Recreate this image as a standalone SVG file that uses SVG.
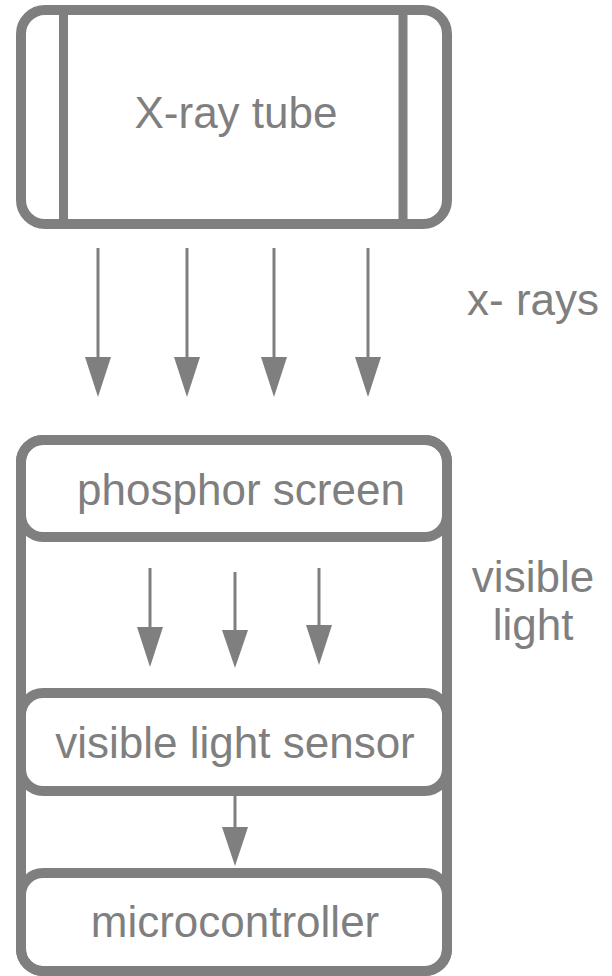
<svg xmlns="http://www.w3.org/2000/svg" width="612" height="976" viewBox="0 0 612 976">
<style>
.box{fill:none;stroke:#7f7f7f;stroke-width:10}
.fillw{fill:#ffffff;stroke:#7f7f7f;stroke-width:10}
.bar{stroke:#7f7f7f;stroke-width:9}
.ln{stroke:#7f7f7f;stroke-width:3;fill:none}
.hd{fill:#7f7f7f}
text{font-family:"Liberation Sans",Arial,sans-serif;font-size:44px;fill:#7f7f7f;text-anchor:middle}
</style>
<rect width="612" height="976" fill="#ffffff"/>
<g id="xray-tube">
<rect class="box" x="21" y="10" width="426" height="214" rx="24"/>
<line class="bar" x1="63.5" y1="10" x2="63.5" y2="224"/>
<line class="bar" x1="403" y1="10" x2="403" y2="224"/>
<text x="236" y="128">X-ray tube</text>
</g>
<g id="detector-housing">
<rect class="box" x="21" y="440" width="426" height="531" rx="22"/>
</g>
<g id="phosphor-screen">
<rect class="box" x="21" y="440" width="426" height="97" rx="22"/>
<text x="241" y="505">phosphor screen</text>
</g>
<g id="visible-light-sensor">
<rect class="box" x="21" y="693" width="426" height="98" rx="22"/>
<text x="235" y="758">visible light sensor</text>
</g>
<g id="microcontroller">
<rect class="box" x="21" y="873" width="426" height="98" rx="22"/>
<text x="235" y="937">microcontroller</text>
</g>
<g id="labels">
<text x="533" y="315" font-size="43">x- rays</text>
<text x="533" y="592">visible</text>
<text x="533" y="640">light</text>
</g>
<g id="connectors">
<line class="ln" x1="98" y1="248" x2="98" y2="360"/>
<polygon class="hd" points="85,357 111,357 98,397"/>
<line class="ln" x1="187" y1="248" x2="187" y2="360"/>
<polygon class="hd" points="174,357 200,357 187,397"/>
<line class="ln" x1="274" y1="248" x2="274" y2="360"/>
<polygon class="hd" points="261,357 287,357 274,397"/>
<line class="ln" x1="368" y1="248" x2="368" y2="360"/>
<polygon class="hd" points="355,357 381,357 368,397"/>
<line class="ln" x1="150" y1="568" x2="150" y2="630"/>
<polygon class="hd" points="137,627 163,627 150,667"/>
<line class="ln" x1="235" y1="572" x2="235" y2="633"/>
<polygon class="hd" points="222,630 248,630 235,668"/>
<line class="ln" x1="319" y1="568" x2="319" y2="628"/>
<polygon class="hd" points="306,625 332,625 319,665"/>
<line class="ln" x1="235" y1="795" x2="235" y2="830"/>
<polygon class="hd" points="222,827 248,827 235,866"/>
</g>
</svg>
